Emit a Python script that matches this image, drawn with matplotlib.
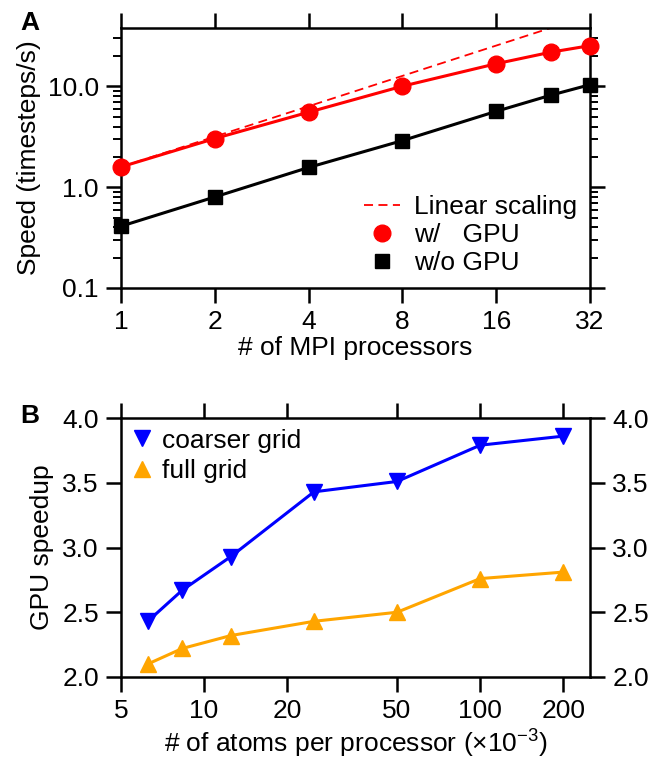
import matplotlib
matplotlib.use("Agg")
import matplotlib.pyplot as plt
from matplotlib.ticker import FixedLocator, NullLocator, LogLocator, NullFormatter

plt.rcParams["font.family"] = ["Liberation Sans", "DejaVu Sans"]
plt.rcParams["mathtext.fontset"] = "custom"
plt.rcParams["mathtext.rm"] = "Liberation Sans"
plt.rcParams["mathtext.it"] = "Liberation Sans:italic"
plt.rcParams["font.size"] = 19

# ---------------------------------------------------------------------------
# Data
# ---------------------------------------------------------------------------

# panel A: speed vs. number of MPI processors
n_procs = [1, 2, 4, 8, 16, 24, 32]
speed_gpu = [1.59, 3.04, 5.55, 10.05, 16.8, 21.9, 25.4]
speed_cpu = [0.41, 0.80, 1.57, 2.90, 5.66, 8.2, 10.4]
speed_linear = [1.59, 3.18, 6.36, 12.72, 25.44, 38.16, 50.88]
procs_ticks = [1, 2, 4, 8, 16, 32]

# panel B: GPU speedup vs. atoms per processor (x10^-3)
atoms_per_proc = [6.25, 8.33, 12.5, 25, 50, 100, 200]
speedup_coarse = [2.43, 2.67, 2.93, 3.43, 3.51, 3.79, 3.86]
speedup_full = [2.10, 2.22, 2.32, 2.43, 2.50, 2.76, 2.81]
atoms_ticks = [5, 10, 20, 50, 100, 200]
speedup_ticks = [2.0, 2.5, 3.0, 3.5, 4.0]


def _style_axes(ax):
    for sp in ax.spines.values():
        sp.set_linewidth(1.8)
    ax.tick_params(which="major", direction="out", length=11, width=1.8,
                   top=True, right=True, pad=5)
    ax.tick_params(which="minor", direction="out", length=5.5, width=1.4,
                   top=True, right=True)


fig = plt.figure(figsize=(6.51, 7.61), dpi=100)

# ---------------------------------------------------------------------------
# Panel A
# ---------------------------------------------------------------------------
ax1 = fig.add_axes([0.1859, 0.6216, 0.7204, 0.3416])
ax1.plot(n_procs, speed_linear, "--", color="red", lw=1.3, dashes=(5, 3),
         label="Linear scaling")
ax1.plot(n_procs, speed_gpu, "-", color="red", lw=2.2)
ax1.plot(n_procs, speed_cpu, "-", color="black", lw=2.2)
ax1.plot(n_procs, speed_gpu, "o", color="red", ms=12, ls="none",
         label="w/   GPU", clip_on=False, zorder=4)
ax1.plot(n_procs, speed_cpu, "s", color="black", ms=10, ls="none",
         label="w/o GPU", clip_on=False, zorder=4)

ax1.set_xscale("log", base=2)
ax1.set_yscale("log")
ax1.set_xlim(1, 32)
ax1.set_ylim(0.1, 38)
ax1.xaxis.set_major_locator(FixedLocator(procs_ticks))
ax1.xaxis.set_minor_locator(NullLocator())
ax1.set_xticklabels([str(t) for t in procs_ticks])
ax1.yaxis.set_major_locator(FixedLocator([0.1, 1.0, 10.0]))
ax1.set_yticklabels(["0.1", "1.0", "10.0"])
ax1.yaxis.set_minor_locator(LogLocator(base=10, subs=range(2, 10)))
ax1.yaxis.set_minor_formatter(NullFormatter())
_style_axes(ax1)
ax1.set_xlabel("# of MPI processors", labelpad=1)
ax1.set_ylabel("Speed (timesteps/s)", labelpad=5)
ax1.legend(loc="lower right", frameon=False, handlelength=1.4,
           handletextpad=0.5, labelspacing=0.15, borderaxespad=0.2,
           borderpad=0.3)
fig.text(0.046, 0.970, "A", fontsize=19, fontweight="bold",
         va="center", ha="center")

# ---------------------------------------------------------------------------
# Panel B
# ---------------------------------------------------------------------------
ax2 = fig.add_axes([0.1859, 0.1104, 0.7204, 0.3403])
ax2.plot(atoms_per_proc, speedup_coarse, "-v", color="#0000ff", lw=2.2,
         ms=12, label="coarser grid", clip_on=False)
ax2.plot(atoms_per_proc, speedup_full, "-^", color="#ffa500", lw=2.2,
         ms=12, label="full grid", clip_on=False)
ax2.set_xscale("log")
ax2.set_xlim(5, 250)
ax2.set_ylim(2.0, 4.0)
ax2.xaxis.set_major_locator(FixedLocator(atoms_ticks))
ax2.xaxis.set_minor_locator(NullLocator())
ax2.set_xticklabels([str(t) for t in atoms_ticks])
ax2.yaxis.set_major_locator(FixedLocator(speedup_ticks))
ax2.set_yticklabels([f"{t:.1f}" for t in speedup_ticks])
_style_axes(ax2)
ax2.tick_params(labelright=True)
ax2.set_xlabel(r"# of atoms per processor ($\times$10$^{-3}$)", labelpad=3)
ax2.set_ylabel("GPU speedup", labelpad=6)
leg = ax2.legend(loc="upper left", frameon=False, handlelength=0.8,
                 handletextpad=0.35, labelspacing=0.25, borderaxespad=0.1,
                 borderpad=0.3)
for h in leg.legend_handles:
    h.set_linestyle("none")
fig.text(0.046, 0.453, "B", fontsize=19, fontweight="bold",
         va="center", ha="center")

fig.savefig("out.png", dpi=100)
